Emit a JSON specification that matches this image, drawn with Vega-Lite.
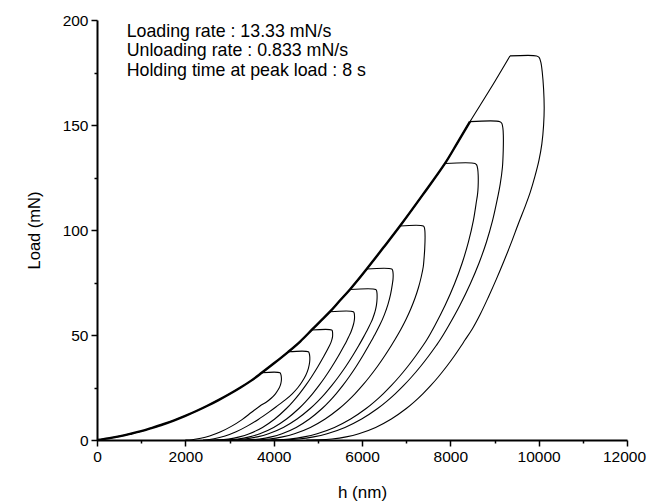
{
  "$schema": "https://vega.github.io/schema/vega-lite/v6.json",
  "width": 530,
  "height": 420,
  "autosize": "none",
  "padding": {"left": 97, "top": 20, "right": 20, "bottom": 62},
  "background": "white",
  "config": {"view": {"stroke": null}, "font": "Liberation Sans"},
  "datasets": {
    "curves": [
      {"s":"load","i":0,"h":0,"P":0},{"s":"load","i":1,"h":250,"P":0.77},{"s":"load","i":2,"h":500,"P":1.73},{"s":"load","i":3,"h":750,"P":2.9},{"s":"load","i":4,"h":1000,"P":4.2},{"s":"load","i":5,"h":1250,"P":5.8},{"s":"load","i":6,"h":1500,"P":7.5},{"s":"load","i":7,"h":1750,"P":9.4},{"s":"load","i":8,"h":2000,"P":11.5},{"s":"load","i":9,"h":2250,"P":13.8},{"s":"load","i":10,"h":2500,"P":16.3},{"s":"load","i":11,"h":2750,"P":19.0},{"s":"load","i":12,"h":3000,"P":21.9},{"s":"load","i":13,"h":3250,"P":25.0},{"s":"load","i":14,"h":3500,"P":28.4},{"s":"load","i":15,"h":3729,"P":32.0},{"s":"load","i":16,"h":4000,"P":36.4},{"s":"load","i":17,"h":4331,"P":42.0},{"s":"load","i":18,"h":4600,"P":46.9},{"s":"load","i":19,"h":4861,"P":52.4},{"s":"load","i":20,"h":5050,"P":56.4},{"s":"load","i":21,"h":5275,"P":61.1},{"s":"load","i":22,"h":5500,"P":66.4},{"s":"load","i":23,"h":5728,"P":71.7},{"s":"load","i":24,"h":5920,"P":76.5},{"s":"load","i":25,"h":6106,"P":81.4},{"s":"load","i":26,"h":6480,"P":91.5},{"s":"load","i":27,"h":6860,"P":101.9},{"s":"load","i":28,"h":7370,"P":116.6},{"s":"load","i":29,"h":7879,"P":131.7},{"s":"load","i":30,"h":8160,"P":141.5},{"s":"load","i":31,"h":8445,"P":151.6},{"s":"load","i":32,"h":8900,"P":167.0},{"s":"load","i":33,"h":9350,"P":182.9},

      {"s":"c1","i":0,"h":3729,"P":32},{"s":"c1","i":1,"h":4140,"P":32},{"s":"c1","i":2,"h":4163,"P":31.2},{"s":"c1","i":3,"h":4175,"P":29.5},{"s":"c1","i":4,"h":4172,"P":28},{"s":"c1","i":5,"h":4150,"P":26},{"s":"c1","i":6,"h":4105,"P":24},{"s":"c1","i":7,"h":4040,"P":22},{"s":"c1","i":8,"h":3950,"P":20},{"s":"c1","i":9,"h":3830,"P":18},{"s":"c1","i":10,"h":3690,"P":16.2},{"s":"c1","i":11,"h":3500,"P":13.2},{"s":"c1","i":12,"h":3276,"P":9.6},{"s":"c1","i":13,"h":3050,"P":6.6},{"s":"c1","i":14,"h":2800,"P":3.9},{"s":"c1","i":15,"h":2550,"P":1.9},{"s":"c1","i":16,"h":2350,"P":0.8},{"s":"c1","i":17,"h":2150,"P":0.15},{"s":"c1","i":18,"h":2000,"P":0},

      {"s":"c2","i":0,"h":4331,"P":42},{"s":"c2","i":1,"h":4784,"P":42},{"s":"c2","i":2,"h":4806,"P":41.2},{"s":"c2","i":3,"h":4818,"P":39.5},{"s":"c2","i":4,"h":4814,"P":37},{"s":"c2","i":5,"h":4785,"P":34},{"s":"c2","i":6,"h":4730,"P":31},{"s":"c2","i":7,"h":4650,"P":28},{"s":"c2","i":8,"h":4550,"P":25},{"s":"c2","i":9,"h":4420,"P":22},{"s":"c2","i":10,"h":4270,"P":19.2},{"s":"c2","i":11,"h":4105,"P":16.6},{"s":"c2","i":12,"h":3900,"P":13.4},{"s":"c2","i":13,"h":3652,"P":9.8},{"s":"c2","i":14,"h":3400,"P":6.6},{"s":"c2","i":15,"h":3150,"P":3.9},{"s":"c2","i":16,"h":2900,"P":1.9},{"s":"c2","i":17,"h":2650,"P":0.6},{"s":"c2","i":18,"h":2400,"P":0},

      {"s":"c3","i":0,"h":4861,"P":52.4},{"s":"c3","i":1,"h":5314,"P":52.4},{"s":"c3","i":2,"h":5329,"P":51.9},{"s":"c3","i":3,"h":5335,"P":50.6},{"s":"c3","i":4,"h":5333,"P":49.2},{"s":"c3","i":5,"h":5321,"P":48},{"s":"c3","i":6,"h":5300,"P":46.6},{"s":"c3","i":7,"h":5266,"P":45},{"s":"c3","i":8,"h":5139,"P":40},{"s":"c3","i":9,"h":5003,"P":35},{"s":"c3","i":10,"h":4855,"P":30},{"s":"c3","i":11,"h":4725,"P":26},{"s":"c3","i":12,"h":4582,"P":22},{"s":"c3","i":13,"h":4436,"P":18.3},{"s":"c3","i":14,"h":4289,"P":15},{"s":"c3","i":15,"h":4024,"P":10},{"s":"c3","i":16,"h":3747,"P":6},{"s":"c3","i":17,"h":3449,"P":3},{"s":"c3","i":18,"h":3224,"P":1.5},{"s":"c3","i":19,"h":2974,"P":0.5},{"s":"c3","i":20,"h":2738,"P":0.08},{"s":"c3","i":21,"h":2520,"P":0},

      {"s":"c4","i":0,"h":5275,"P":61.1},{"s":"c4","i":1,"h":5803,"P":61.1},{"s":"c4","i":2,"h":5822,"P":60.5},{"s":"c4","i":3,"h":5830,"P":59.2},{"s":"c4","i":4,"h":5830,"P":57.8},{"s":"c4","i":5,"h":5822,"P":56.5},{"s":"c4","i":6,"h":5806,"P":55},{"s":"c4","i":7,"h":5780,"P":53.2},{"s":"c4","i":8,"h":5745,"P":51.2},{"s":"c4","i":9,"h":5700,"P":49.2},{"s":"c4","i":10,"h":5653,"P":47.2},{"s":"c4","i":11,"h":5597,"P":45},{"s":"c4","i":12,"h":5465,"P":40},{"s":"c4","i":13,"h":5321,"P":35},{"s":"c4","i":14,"h":5165,"P":30},{"s":"c4","i":15,"h":5028,"P":26},{"s":"c4","i":16,"h":4879,"P":22},{"s":"c4","i":17,"h":4725,"P":18.3},{"s":"c4","i":18,"h":4571,"P":15},{"s":"c4","i":19,"h":4292,"P":10},{"s":"c4","i":20,"h":4000,"P":6},{"s":"c4","i":21,"h":3687,"P":3},{"s":"c4","i":22,"h":3451,"P":1.5},{"s":"c4","i":23,"h":3187,"P":0.5},{"s":"c4","i":24,"h":2939,"P":0.08},{"s":"c4","i":25,"h":2710,"P":0},

      {"s":"c5","i":0,"h":5728,"P":71.7},{"s":"c5","i":1,"h":6310,"P":71.7},{"s":"c5","i":2,"h":6330,"P":71.1},{"s":"c5","i":3,"h":6340,"P":69.8},{"s":"c5","i":4,"h":6342,"P":68},{"s":"c5","i":5,"h":6337,"P":66},{"s":"c5","i":6,"h":6325,"P":64},{"s":"c5","i":7,"h":6305,"P":62},{"s":"c5","i":8,"h":6278,"P":60},{"s":"c5","i":9,"h":6245,"P":58},{"s":"c5","i":10,"h":6205,"P":56},{"s":"c5","i":11,"h":6160,"P":54},{"s":"c5","i":12,"h":6112,"P":52},{"s":"c5","i":13,"h":6060,"P":50},{"s":"c5","i":14,"h":5927,"P":45},{"s":"c5","i":15,"h":5785,"P":40},{"s":"c5","i":16,"h":5632,"P":35},{"s":"c5","i":17,"h":5464,"P":30},{"s":"c5","i":18,"h":5318,"P":26},{"s":"c5","i":19,"h":5158,"P":22},{"s":"c5","i":20,"h":4993,"P":18.3},{"s":"c5","i":21,"h":4828,"P":15},{"s":"c5","i":22,"h":4530,"P":10},{"s":"c5","i":23,"h":4218,"P":6},{"s":"c5","i":24,"h":3884,"P":3},{"s":"c5","i":25,"h":3630,"P":1.5},{"s":"c5","i":26,"h":3348,"P":0.5},{"s":"c5","i":27,"h":3083,"P":0.08},{"s":"c5","i":28,"h":2838,"P":0},

      {"s":"c6","i":0,"h":6106,"P":81.4},{"s":"c6","i":1,"h":6672,"P":81.4},{"s":"c6","i":2,"h":6694,"P":80.7},{"s":"c6","i":3,"h":6705,"P":79},{"s":"c6","i":4,"h":6702,"P":76.5},{"s":"c6","i":5,"h":6690,"P":74.6},{"s":"c6","i":6,"h":6649,"P":69.6},{"s":"c6","i":7,"h":6588,"P":64.6},{"s":"c6","i":8,"h":6505,"P":59.6},{"s":"c6","i":9,"h":6400,"P":54.6},{"s":"c6","i":10,"h":6275,"P":49.6},{"s":"c6","i":11,"h":6224,"P":47.6},{"s":"c6","i":12,"h":6152,"P":45},{"s":"c6","i":13,"h":6015,"P":40},{"s":"c6","i":14,"h":5868,"P":35},{"s":"c6","i":15,"h":5707,"P":30},{"s":"c6","i":16,"h":5567,"P":26},{"s":"c6","i":17,"h":5413,"P":22},{"s":"c6","i":18,"h":5255,"P":18.3},{"s":"c6","i":19,"h":5097,"P":15},{"s":"c6","i":20,"h":4810,"P":10},{"s":"c6","i":21,"h":4510,"P":6},{"s":"c6","i":22,"h":4189,"P":3},{"s":"c6","i":23,"h":3946,"P":1.5},{"s":"c6","i":24,"h":3675,"P":0.5},{"s":"c6","i":25,"h":3420,"P":0.08},{"s":"c6","i":26,"h":3185,"P":0},

      {"s":"c7","i":0,"h":6860,"P":101.9},{"s":"c7","i":1,"h":7387,"P":101.9},{"s":"c7","i":2,"h":7411,"P":101.2},{"s":"c7","i":3,"h":7424,"P":99.5},{"s":"c7","i":4,"h":7428,"P":96.5},{"s":"c7","i":5,"h":7420,"P":91},{"s":"c7","i":6,"h":7405,"P":86.5},{"s":"c7","i":7,"h":7387,"P":82.5},{"s":"c7","i":8,"h":7339,"P":77.5},{"s":"c7","i":9,"h":7277,"P":72.5},{"s":"c7","i":10,"h":7199,"P":67.5},{"s":"c7","i":11,"h":7106,"P":62.5},{"s":"c7","i":12,"h":6998,"P":57.5},{"s":"c7","i":13,"h":6875,"P":52.5},{"s":"c7","i":14,"h":6740,"P":47.6},{"s":"c7","i":15,"h":6665,"P":45},{"s":"c7","i":16,"h":6512,"P":40},{"s":"c7","i":17,"h":6348,"P":35},{"s":"c7","i":18,"h":6168,"P":30},{"s":"c7","i":19,"h":6011,"P":26},{"s":"c7","i":20,"h":5840,"P":22},{"s":"c7","i":21,"h":5663,"P":18.3},{"s":"c7","i":22,"h":5486,"P":15},{"s":"c7","i":23,"h":5166,"P":10},{"s":"c7","i":24,"h":4831,"P":6},{"s":"c7","i":25,"h":4472,"P":3},{"s":"c7","i":26,"h":4200,"P":1.5},{"s":"c7","i":27,"h":3898,"P":0.5},{"s":"c7","i":28,"h":3613,"P":0.08},{"s":"c7","i":29,"h":3350,"P":0},

      {"s":"c8","i":0,"h":7879,"P":131.7},{"s":"c8","i":1,"h":8558,"P":131.7},{"s":"c8","i":2,"h":8596,"P":131},{"s":"c8","i":3,"h":8620,"P":129},{"s":"c8","i":4,"h":8631,"P":126},{"s":"c8","i":5,"h":8632,"P":122.5},{"s":"c8","i":6,"h":8625,"P":119},{"s":"c8","i":7,"h":8612,"P":116.4},{"s":"c8","i":8,"h":8596,"P":114.3},{"s":"c8","i":9,"h":8520,"P":104.3},{"s":"c8","i":10,"h":8410,"P":94.3},{"s":"c8","i":11,"h":8268,"P":84.3},{"s":"c8","i":12,"h":8093,"P":74.3},{"s":"c8","i":13,"h":7885,"P":64.3},{"s":"c8","i":14,"h":7644,"P":54.3},{"s":"c8","i":15,"h":7464,"P":47.6},{"s":"c8","i":16,"h":7382,"P":45},{"s":"c8","i":17,"h":7215,"P":40},{"s":"c8","i":18,"h":7035,"P":35},{"s":"c8","i":19,"h":6839,"P":30},{"s":"c8","i":20,"h":6667,"P":26},{"s":"c8","i":21,"h":6479,"P":22},{"s":"c8","i":22,"h":6286,"P":18.3},{"s":"c8","i":23,"h":6093,"P":15},{"s":"c8","i":24,"h":5743,"P":10},{"s":"c8","i":25,"h":5376,"P":6},{"s":"c8","i":26,"h":4984,"P":3},{"s":"c8","i":27,"h":4687,"P":1.5},{"s":"c8","i":28,"h":4356,"P":0.5},{"s":"c8","i":29,"h":4045,"P":0.08},{"s":"c8","i":30,"h":3757,"P":0},

      {"s":"c9","i":0,"h":8445,"P":151.6},{"s":"c9","i":1,"h":9124,"P":151.6},{"s":"c9","i":2,"h":9165,"P":150.8},{"s":"c9","i":3,"h":9190,"P":148.5},{"s":"c9","i":4,"h":9200,"P":145},{"s":"c9","i":5,"h":9198,"P":138},{"s":"c9","i":6,"h":9180,"P":130},{"s":"c9","i":7,"h":9130,"P":122},{"s":"c9","i":8,"h":9060,"P":114.3},{"s":"c9","i":9,"h":8954,"P":104.3},{"s":"c9","i":10,"h":8818,"P":94.3},{"s":"c9","i":11,"h":8650,"P":84.3},{"s":"c9","i":12,"h":8450,"P":74.3},{"s":"c9","i":13,"h":8220,"P":64.3},{"s":"c9","i":14,"h":7958,"P":54.3},{"s":"c9","i":15,"h":7766,"P":47.6},{"s":"c9","i":16,"h":7681,"P":45},{"s":"c9","i":17,"h":7509,"P":40},{"s":"c9","i":18,"h":7324,"P":35},{"s":"c9","i":19,"h":7122,"P":30},{"s":"c9","i":20,"h":6945,"P":26},{"s":"c9","i":21,"h":6751,"P":22},{"s":"c9","i":22,"h":6552,"P":18.3},{"s":"c9","i":23,"h":6353,"P":15},{"s":"c9","i":24,"h":5992,"P":10},{"s":"c9","i":25,"h":5614,"P":6},{"s":"c9","i":26,"h":5210,"P":3},{"s":"c9","i":27,"h":4903,"P":1.5},{"s":"c9","i":28,"h":4562,"P":0.5},{"s":"c9","i":29,"h":4242,"P":0.08},{"s":"c9","i":30,"h":3945,"P":0},

      {"s":"c10","i":0,"h":9350,"P":182.9},{"s":"c10","i":1,"h":9955,"P":182.9},{"s":"c10","i":2,"h":10010,"P":182.2},{"s":"c10","i":3,"h":10050,"P":179.8},{"s":"c10","i":4,"h":10082,"P":175},{"s":"c10","i":5,"h":10112,"P":167},{"s":"c10","i":6,"h":10125,"P":158},{"s":"c10","i":7,"h":10112,"P":150},{"s":"c10","i":8,"h":10072,"P":141},{"s":"c10","i":9,"h":10005,"P":133},{"s":"c10","i":10,"h":9915,"P":125.5},{"s":"c10","i":11,"h":9810,"P":118},{"s":"c10","i":12,"h":9690,"P":111},{"s":"c10","i":13,"h":9540,"P":103},{"s":"c10","i":14,"h":9380,"P":94},{"s":"c10","i":15,"h":9210,"P":85},{"s":"c10","i":16,"h":9040,"P":76.5},{"s":"c10","i":17,"h":8860,"P":68},{"s":"c10","i":18,"h":8680,"P":60},{"s":"c10","i":19,"h":8500,"P":53},{"s":"c10","i":20,"h":8331,"P":47.6},{"s":"c10","i":21,"h":8251,"P":45},{"s":"c10","i":22,"h":8090,"P":40},{"s":"c10","i":23,"h":7915,"P":35},{"s":"c10","i":24,"h":7726,"P":30},{"s":"c10","i":25,"h":7559,"P":26},{"s":"c10","i":26,"h":7377,"P":22},{"s":"c10","i":27,"h":7190,"P":18.3},{"s":"c10","i":28,"h":7003,"P":15},{"s":"c10","i":29,"h":6664,"P":10},{"s":"c10","i":30,"h":6309,"P":6},{"s":"c10","i":31,"h":5929,"P":3},{"s":"c10","i":32,"h":5641,"P":1.5},{"s":"c10","i":33,"h":5320,"P":0.5},{"s":"c10","i":34,"h":5019,"P":0.08},{"s":"c10","i":35,"h":4740,"P":0}
    ],
    "notes": [
      {"h": 672, "P": 191.9, "t": "Loading rate : 13.33 mN/s"},
      {"h": 672, "P": 182.7, "t": "Unloading rate : 0.833 mN/s"},
      {"h": 672, "P": 173.5, "t": "Holding time at peak load : 8 s"}
    ]
  },
  "encoding": {
    "x": {
      "field": "h", "type": "quantitative",
      "scale": {"domain": [0, 12000], "nice": false, "zero": false},
      "axis": {
        "title": "h (nm)",
        "values": [0,1000,2000,3000,4000,5000,6000,7000,8000,9000,10000,11000,12000],
        "format": "d",
        "labelExpr": "datum.value % 2000 === 0 ? datum.label : ''",
        "tickSize": {"condition": {"test": "datum.value % 2000 === 0", "value": 6}, "value": 3},
        "labelOffset": {"condition": {"test": "datum.value === 12000", "value": -3}, "value": 0},
        "grid": false,
        "domainColor": "black", "domainWidth": 2,
        "tickColor": "black", "tickWidth": 1.5,
        "labelColor": "black", "labelFont": "Liberation Sans", "labelFontSize": 15.5,
        "labelPadding": 3, "labelFlush": false, "labelOverlap": false,
        "titleFont": "Liberation Sans", "titleFontSize": 17, "titleFontWeight": "normal",
        "titleColor": "black", "titlePadding": 20
      }
    },
    "y": {
      "field": "P", "type": "quantitative",
      "scale": {"domain": [0, 200], "nice": false},
      "axis": {
        "title": "Load (mN)",
        "values": [0,25,50,75,100,125,150,175,200],
        "labelExpr": "datum.value % 50 === 0 ? datum.label : ''",
        "tickSize": {"condition": {"test": "datum.value % 50 === 0", "value": 6}, "value": 3},
        "grid": false,
        "domainColor": "black", "domainWidth": 2,
        "tickColor": "black", "tickWidth": 1.5,
        "labelColor": "black", "labelFont": "Liberation Sans", "labelFontSize": 15.5,
        "labelPadding": 3, "labelFlush": false, "labelOverlap": false,
        "titleFont": "Liberation Sans", "titleFontSize": 16.5, "titleFontWeight": "normal",
        "titleColor": "black", "titlePadding": 20
      }
    }
  },
  "layer": [
    {
      "data": {"name": "curves"},
      "mark": {"type": "line", "interpolate": "catmull-rom", "color": "black", "strokeWidth": 1.1},
      "encoding": {"detail": {"field": "s"}, "order": {"field": "i", "type": "quantitative"}}
    },
    {
      "data": {"name": "curves"},
      "transform": [{"filter": "datum.s === 'load' && datum.h <= 8445"}],
      "mark": {"type": "line", "interpolate": "catmull-rom", "color": "black", "strokeWidth": 2.4},
      "encoding": {"order": {"field": "i", "type": "quantitative"}}
    },
    {
      "data": {"name": "notes"},
      "mark": {"type": "text", "align": "left", "baseline": "alphabetic", "font": "Liberation Sans", "fontSize": 17.8, "color": "black"},
      "encoding": {"text": {"field": "t"}}
    }
  ]
}
